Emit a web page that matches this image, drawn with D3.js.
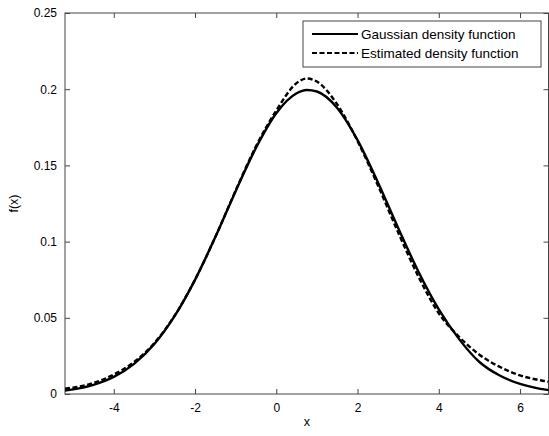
<!DOCTYPE html>
<html><head><meta charset="utf-8">
<script src="https://cdn.jsdelivr.net/npm/d3@7"></script>
<style>html,body{margin:0;padding:0;background:#fff;}svg{display:block;}</style>
</head><body>
<svg id="c" width="549" height="436"></svg>
<script>
const xs = [-5.2,-5.0,-4.5,-4.0,-3.5,-3.0,-2.5,-2.0,-1.5,-1.0,-0.5,0.0,0.5,0.75,1.0,1.5,2.0,2.5,3.0,3.5,4.0,4.5,5.0,5.5,6.0,6.5,6.75];
const gaussian = [0.0022,0.0030,0.0060,0.0112,0.0198,0.0328,0.0512,0.0749,0.1030,0.1331,0.1615,0.1842,0.1973,0.1995,0.1985,0.1877,0.1666,0.1390,0.1090,0.0802,0.0555,0.0360,0.0210,0.0121,0.0066,0.0034,0.0024];
const estimated = [0.0035,0.0042,0.0072,0.0128,0.0210,0.0335,0.0515,0.0750,0.1030,0.1335,0.1625,0.1860,0.2040,0.2070,0.2050,0.1900,0.1660,0.1370,0.1060,0.0770,0.0530,0.0375,0.0258,0.0178,0.0122,0.0090,0.0078];
const xTicks = [-4,-2,0,2,4,6];
const xTickLabels = ["-4","-2","0","2","4","6"];
const yTicks = [0,0.05,0.1,0.15,0.2,0.25];
const yTickLabels = ["0","0.05","0.1","0.15","0.2","0.25"];
const legendLabels = ["Gaussian density function","Estimated density function"];

const svg = d3.select("#c");
const L=65, R=548.5, T=13, B=394;
const x = d3.scaleLinear().domain([-5.2,6.7]).range([L,R]);
const y = d3.scaleLinear().domain([0,0.25]).range([B,T]);
const font = "Liberation Sans, Arial, sans-serif";

const axisColor = "#444";
svg.append("rect").attr("x",L).attr("y",T).attr("width",R-L).attr("height",B-T)
  .attr("fill","none").attr("stroke",axisColor).attr("stroke-width",1);

const xb = svg.append("g").attr("transform",`translate(0,${B})`)
  .call(d3.axisBottom(x).tickValues(xTicks).tickSizeInner(-5).tickSizeOuter(0).tickPadding(9).tickFormat((d,i)=>xTickLabels[i]));
const xt = svg.append("g").attr("transform",`translate(0,${T})`)
  .call(d3.axisTop(x).tickValues(xTicks).tickSizeInner(-5).tickSizeOuter(0).tickFormat(""));
const yl = svg.append("g").attr("transform",`translate(${L},0)`)
  .call(d3.axisLeft(y).tickValues(yTicks).tickSizeInner(-5).tickSizeOuter(0).tickPadding(8).tickFormat((d,i)=>yTickLabels[i]));
const yr = svg.append("g").attr("transform",`translate(${R},0)`)
  .call(d3.axisRight(y).tickValues(yTicks).tickSizeInner(-5).tickSizeOuter(0).tickFormat(""));
[xb,xt,yl,yr].forEach(g=>{
  g.select(".domain").remove();
  g.selectAll("line").attr("stroke",axisColor);
  g.selectAll("text").attr("font-family",font).attr("font-size",12).attr("fill","#000");
});

const line = d3.line().x(d=>x(d[0])).y(d=>y(d[1])).curve(d3.curveMonotoneX);
svg.append("clipPath").attr("id","clp").append("rect").attr("x",L).attr("y",T).attr("width",R-L).attr("height",B-T);
svg.append("path").datum(xs.map((v,i)=>[v,gaussian[i]])).attr("d",line)
  .attr("fill","none").attr("stroke","#000").attr("stroke-width",2.4).attr("clip-path","url(#clp)");
svg.append("path").datum(xs.map((v,i)=>[v,estimated[i]])).attr("d",line)
  .attr("fill","none").attr("stroke","#000").attr("stroke-width",2.4).attr("stroke-dasharray","5,2.5").attr("clip-path","url(#clp)");

svg.append("text").attr("x",(L+R)/2).attr("y",426).attr("text-anchor","middle")
  .attr("font-family",font).attr("font-size",12.5).text("x");
svg.append("text").attr("transform",`translate(18,${(T+B)/2}) rotate(-90)`).attr("text-anchor","middle")
  .attr("font-family",font).attr("font-size",12.5).text("f(x)");

const lg = svg.append("g");
lg.append("rect").attr("x",303).attr("y",21).attr("width",238).attr("height",46)
  .attr("fill","#fff").attr("stroke","#444").attr("stroke-width",1);
legendLabels.forEach((t,i)=>{
  const yy = 34 + i*19;
  lg.append("line").attr("x1",312).attr("x2",358).attr("y1",yy).attr("y2",yy)
    .attr("stroke","#000").attr("stroke-width",2)
    .attr("stroke-dasharray", i===1 ? "5,2.5" : null);
  lg.append("text").attr("x",361).attr("y",yy+5).attr("font-family",font).attr("font-size",13.5).text(t);
});
</script>
</body></html>
